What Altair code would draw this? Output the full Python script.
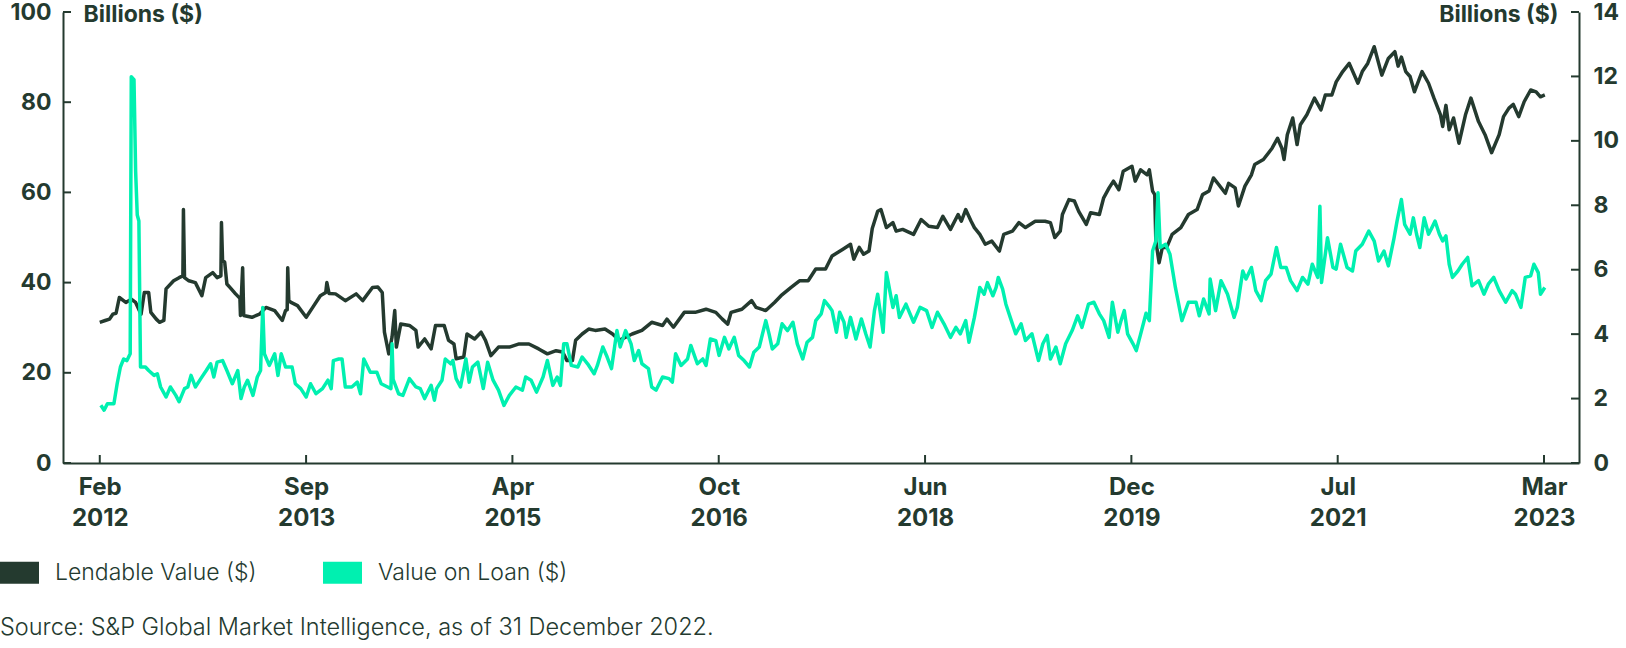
import altair as alt
import pandas as pd

DARK = "#243a2f"
TEAL = "#00f0b0"
FONT = "Inter"

series_names = ["Lendable Value ($)", "Value on Loan ($)"]

# (months elapsed since 1 Feb 2012, value in $bn)
lendable_points = [
    (0.0, 31.2), (0.5, 31.6), (0.9, 31.9), (1.2, 33.0), (1.5, 33.2), (1.8, 36.7), (2.4, 35.6), (2.9, 36.3),
    (3.3, 35.6), (3.8, 33.0), (4.1, 37.8), (4.5, 37.8), (4.7, 33.4), (5.2, 31.9), (5.5, 31.2), (5.9, 31.6),
    (6.1, 38.6), (6.8, 40.4), (7.3, 41.1), (7.65, 41.5), (7.7, 56.2), (7.8, 41.1), (8.2, 40.4), (8.8, 40.0),
    (9.4, 37.1), (9.75, 41.1), (10.4, 42.2), (10.8, 41.1), (11.15, 41.5), (11.2, 53.3), (11.3, 45.0),
    (11.5, 44.5), (11.7, 39.7), (12.0, 38.9), (12.5, 37.5), (12.9, 36.5), (12.95, 32.7), (13.15, 43.3),
    (13.25, 32.7), (14.0, 32.3), (14.7, 33.0), (15.3, 34.5), (16.1, 33.8), (16.8, 31.6), (17.1, 33.8),
    (17.25, 34.0), (17.3, 43.3), (17.4, 36.0), (17.6, 35.6), (18.2, 34.9), (19.0, 32.3), (19.6, 34.5),
    (20.3, 37.1), (20.8, 37.8), (20.9, 40.0), (21.1, 37.6), (21.7, 37.5), (22.6, 36.0), (23.6, 37.5),
    (24.2, 36.0), (25.1, 38.9), (25.6, 39.0), (26.0, 37.8), (26.2, 29.0), (26.6, 24.2), (26.9, 27.9),
    (27.15, 33.8), (27.3, 25.7), (27.7, 30.8), (28.5, 30.5), (29.1, 29.4), (29.3, 25.7), (29.9, 27.5),
    (30.5, 25.3), (30.9, 30.5), (31.7, 30.5), (32.1, 27.2), (32.6, 26.4), (32.8, 23.1), (33.5, 23.5),
    (33.8, 28.6), (34.5, 27.5), (35.1, 29.0), (35.5, 27.2), (36.0, 23.8), (36.7, 25.7), (37.7, 25.7),
    (38.6, 26.4), (39.5, 26.4), (40.4, 25.3), (41.2, 24.2), (42.0, 24.9), (42.6, 24.6), (43.0, 22.7),
    (43.5, 22.7), (43.8, 27.2), (44.4, 28.6), (45.0, 29.7), (45.6, 29.4), (46.5, 29.7), (47.2, 28.6),
    (47.8, 27.2), (49.0, 28.6), (49.9, 29.4), (50.8, 31.2), (51.8, 30.5), (52.2, 31.9), (52.8, 30.1),
    (53.8, 33.4), (54.8, 33.4), (55.8, 34.1), (56.7, 33.4), (57.3, 31.9), (57.8, 30.8), (58.1, 33.4),
    (59.1, 34.1), (60.0, 36.0), (60.4, 34.5), (61.3, 33.8), (62.1, 35.6), (62.7, 37.1), (63.6, 38.9),
    (64.4, 40.4), (65.2, 40.4), (65.9, 43.0), (66.8, 43.0), (67.4, 45.9), (68.4, 47.4), (69.1, 48.5),
    (69.4, 45.2), (69.9, 47.8), (70.3, 46.3), (70.8, 47.0), (71.1, 52.0), (71.6, 55.8), (71.9, 56.2),
    (72.4, 52.2), (73.0, 53.3), (73.3, 51.4), (73.9, 51.8), (74.9, 50.7), (75.6, 54.0), (76.3, 52.5),
    (77.1, 52.2), (77.6, 54.7), (78.3, 51.8), (79.0, 55.1), (79.3, 53.6), (79.7, 56.2), (80.2, 53.6),
    (80.5, 52.2), (81.0, 50.7), (81.5, 48.5), (82.1, 49.2), (82.8, 47.0), (83.2, 50.7), (84.0, 51.4),
    (84.6, 53.3), (85.2, 52.2), (86.1, 53.6), (87.0, 53.6), (87.5, 53.3), (87.9, 50.0), (88.4, 51.4),
    (88.6, 55.1), (89.2, 58.4), (89.7, 58.1), (90.1, 55.8), (90.8, 52.9), (91.2, 55.5), (92.0, 55.1),
    (92.4, 58.8), (92.9, 61.0), (93.3, 62.5), (93.8, 60.6), (94.2, 64.7), (95.0, 65.8), (95.3, 62.5),
    (95.8, 65.0), (96.4, 63.9), (96.6, 65.0), (96.9, 60.3), (97.1, 59.5), (97.2, 49.2), (97.5, 44.4),
    (97.8, 47.8), (98.2, 47.8), (98.7, 50.7), (99.5, 52.2), (100.2, 55.1), (101.0, 56.2), (101.5, 59.5),
    (102.1, 60.3), (102.5, 63.2), (103.0, 61.7), (103.6, 59.8), (103.9, 62.0), (104.5, 61.0), (104.8, 57.0),
    (105.4, 61.4), (106.0, 63.9), (106.3, 66.2), (107.1, 67.3), (107.9, 69.8), (108.4, 72.0), (108.8, 69.8),
    (109.0, 67.3), (109.3, 72.8), (109.8, 76.5), (110.2, 70.6), (110.5, 75.0), (111.1, 77.2), (111.8, 80.9),
    (112.4, 78.3), (112.8, 81.6), (113.4, 81.6), (113.8, 84.5), (114.4, 86.8), (115.0, 88.6), (115.8, 84.2),
    (116.2, 86.8), (116.7, 88.6), (117.3, 92.3), (118.0, 86.0), (118.6, 89.7), (119.2, 91.2), (119.5, 88.0),
    (119.8, 90.0), (120.2, 86.8), (120.6, 85.7), (121.0, 82.3), (121.7, 86.8), (122.3, 84.2), (122.8, 80.9),
    (123.4, 77.2), (123.6, 74.6), (123.9, 79.3), (124.2, 73.9), (124.6, 76.5), (125.1, 70.9), (125.7, 77.2),
    (126.2, 80.9), (126.9, 75.7), (127.5, 72.8), (128.1, 68.8), (128.8, 72.8), (129.2, 76.8), (129.7, 78.7),
    (130.1, 79.5), (130.6, 76.8), (131.1, 80.1), (131.7, 82.7), (132.2, 82.3), (132.6, 81.2), (133.0, 81.6),
]

loan_points = [
    (0.1, 1.79), (0.4, 1.64), (0.7, 1.84), (1.3, 1.84), (1.6, 2.46), (1.9, 2.98), (2.2, 3.23), (2.5, 3.18),
    (2.8, 3.39), (2.9, 11.99), (3.15, 11.9), (3.3, 9.06), (3.45, 7.7), (3.6, 7.51), (3.75, 2.98), (4.2, 2.98),
    (4.5, 2.87), (5.0, 2.72), (5.3, 2.77), (5.6, 2.36), (6.1, 2.05), (6.5, 2.36), (7.0, 2.10), (7.3, 1.90),
    (7.8, 2.31), (8.1, 2.36), (8.4, 2.72), (8.8, 2.36), (9.3, 2.62), (9.8, 2.87), (10.2, 3.08), (10.5, 2.67),
    (10.8, 3.13), (11.3, 3.18), (11.7, 2.87), (12.2, 2.46), (12.7, 2.87), (13.0, 2.00), (13.3, 2.36),
    (13.6, 2.57), (14.1, 2.10), (14.5, 2.67), (14.8, 2.87), (15.0, 4.83), (15.15, 3.39), (15.6, 3.03),
    (16.1, 3.39), (16.4, 2.72), (16.7, 3.39), (17.1, 2.98), (17.7, 2.98), (18.0, 2.46), (18.5, 2.31),
    (19.0, 2.05), (19.4, 2.46), (19.9, 2.15), (20.5, 2.31), (21.0, 2.57), (21.3, 2.31), (21.5, 3.18),
    (22.0, 3.23), (22.3, 3.23), (22.6, 2.36), (23.2, 2.36), (23.7, 2.51), (24.0, 2.15), (24.3, 3.23),
    (24.9, 2.82), (25.5, 2.82), (25.9, 2.46), (26.5, 2.36), (26.8, 2.31), (26.9, 3.70), (27.0, 2.60),
    (27.5, 2.15), (27.9, 2.10), (28.5, 2.62), (29.1, 2.36), (29.5, 2.31), (29.9, 2.00), (30.5, 2.41),
    (30.8, 1.95), (31.0, 2.31), (31.5, 2.57), (31.8, 3.23), (32.3, 3.08), (32.5, 3.18), (32.8, 2.62),
    (33.2, 2.36), (33.7, 3.23), (34.0, 2.51), (34.3, 2.98), (34.8, 3.13), (35.3, 2.31), (35.7, 3.13),
    (36.2, 2.57), (36.7, 2.26), (37.2, 1.79), (37.7, 2.10), (38.3, 2.36), (38.9, 2.26), (39.2, 2.67),
    (39.7, 2.57), (40.2, 2.20), (40.8, 2.67), (41.2, 3.18), (41.7, 2.41), (42.1, 2.67), (42.4, 2.41),
    (42.7, 3.70), (43.0, 3.70), (43.4, 3.03), (44.0, 2.98), (44.4, 3.29), (44.9, 3.08), (45.5, 2.77),
    (45.8, 3.03), (46.3, 3.60), (46.7, 3.29), (47.1, 2.93), (47.6, 4.11), (47.9, 3.60), (48.4, 4.11),
    (48.9, 3.70), (49.2, 3.18), (49.6, 3.49), (49.9, 3.08), (50.5, 2.93), (50.8, 2.36), (51.2, 2.26),
    (51.8, 2.67), (52.4, 2.62), (52.7, 2.51), (53.0, 3.39), (53.5, 3.03), (54.1, 3.23), (54.4, 3.65),
    (55.0, 3.08), (55.5, 3.23), (55.8, 3.03), (56.2, 3.85), (56.7, 3.80), (57.0, 3.34), (57.5, 3.90),
    (57.9, 3.54), (58.4, 3.90), (58.8, 3.34), (59.3, 3.18), (59.8, 2.98), (60.2, 3.44), (60.7, 3.60),
    (61.3, 4.42), (61.6, 4.01), (61.9, 3.54), (62.4, 3.70), (62.8, 4.32), (63.3, 4.11), (63.8, 4.37),
    (64.2, 3.70), (64.7, 3.23), (65.1, 3.75), (65.6, 3.90), (65.9, 4.42), (66.4, 4.63), (66.7, 5.04),
    (67.2, 4.83), (67.4, 4.73), (67.8, 4.06), (68.1, 4.68), (68.5, 4.37), (68.7, 3.90), (69.1, 4.52),
    (69.6, 3.85), (70.1, 4.47), (70.5, 4.01), (70.9, 3.60), (71.3, 4.73), (71.6, 5.24), (72.1, 4.06),
    (72.4, 5.91), (73.0, 4.83), (73.3, 5.19), (73.6, 4.52), (74.2, 4.93), (74.9, 4.37), (75.5, 4.83),
    (76.1, 4.73), (76.6, 4.21), (77.1, 4.68), (77.7, 4.32), (78.3, 3.90), (78.8, 4.21), (79.2, 4.01),
    (79.7, 4.42), (80.0, 3.75), (80.5, 4.52), (81.0, 5.45), (81.4, 5.24), (81.7, 5.60), (82.2, 5.19),
    (82.5, 5.45), (82.7, 5.76), (83.1, 5.40), (83.4, 4.93), (83.9, 4.42), (84.3, 4.01), (84.8, 4.32),
    (85.2, 3.80), (85.8, 4.01), (86.4, 3.18), (86.8, 3.70), (87.2, 3.96), (87.5, 3.23), (88.0, 3.60),
    (88.4, 3.08), (88.9, 3.70), (89.5, 4.11), (90.0, 4.57), (90.4, 4.21), (91.0, 4.93), (91.5, 4.99),
    (92.0, 4.63), (92.4, 4.42), (92.9, 3.90), (93.2, 4.99), (93.7, 4.06), (94.0, 4.42), (94.3, 4.73),
    (94.6, 4.01), (95.1, 3.70), (95.4, 3.49), (95.8, 4.00), (96.3, 4.65), (96.6, 4.42), (96.9, 6.58),
    (97.2, 6.89), (97.4, 8.39), (97.6, 6.69), (98.1, 6.79), (98.5, 6.48), (99.0, 5.45), (99.6, 4.42),
    (100.2, 4.99), (100.9, 4.99), (101.2, 4.57), (101.6, 5.09), (102.1, 4.63), (102.2, 5.71), (102.7, 4.73),
    (103.2, 5.66), (103.8, 5.24), (104.4, 4.52), (104.7, 4.83), (105.2, 5.96), (105.5, 5.71), (106.0, 6.07),
    (106.4, 5.35), (106.9, 5.04), (107.3, 5.66), (107.8, 5.86), (108.3, 6.69), (108.7, 6.07), (109.2, 6.07),
    (109.6, 5.66), (110.2, 5.35), (110.7, 5.76), (111.2, 5.55), (111.6, 6.17), (112.1, 5.76), (112.3, 7.97),
    (112.45, 5.60), (113.0, 6.99), (113.5, 6.07), (113.8, 6.02), (114.2, 6.79), (114.8, 6.07), (115.3, 5.96),
    (115.6, 6.58), (116.2, 6.79), (116.8, 7.20), (117.3, 6.89), (117.7, 6.27), (118.2, 6.58), (118.6, 6.12),
    (119.1, 6.94), (119.4, 7.51), (119.8, 8.18), (120.1, 7.41), (120.6, 7.10), (120.9, 7.61), (121.2, 7.10),
    (121.5, 6.69), (121.9, 7.61), (122.3, 7.10), (122.6, 7.30), (122.9, 7.51), (123.3, 7.10), (123.6, 6.89),
    (123.9, 7.05), (124.2, 6.17), (124.5, 5.76), (125.0, 5.96), (125.4, 6.17), (125.9, 6.38), (126.3, 5.50),
    (126.9, 5.66), (127.4, 5.24), (127.8, 5.55), (128.3, 5.76), (128.8, 5.35), (129.4, 4.99), (130.0, 5.35),
    (130.3, 5.24), (130.8, 4.83), (131.2, 5.76), (131.7, 5.81), (132.0, 6.17), (132.4, 5.91), (132.6, 5.24),
    (133.0, 5.45),
]

tick_dates = ["2012-02-01", "2013-09-01", "2015-04-02", "2016-10-31",
              "2018-06-01", "2019-12-31", "2021-07-31", "2023-03-01"]
x_domain = ["2011-10-21", "2023-06-07"]
left_ticks = [0, 20, 40, 60, 80, 100]
right_ticks = [0, 2, 4, 6, 8, 10, 12, 14]
axis_title = "Billions ($)"
source_text = "Source: S&P Global Market Intelligence, as of 31 December 2022."

START = pd.Timestamp("2012-02-01", tz="UTC")


def to_ms(ts):
    return int(ts.value // 10**6)


def month_ms(m):
    return to_ms(START + pd.Timedelta(days=m * 30.4375))


def date_ms(s):
    return to_ms(pd.Timestamp(s, tz="UTC"))


lend_df = pd.DataFrame({
    "date": [month_ms(t) for t, _ in lendable_points],
    "value": [v for _, v in lendable_points],
    "series": series_names[0],
})
loan_df = pd.DataFrame({
    "date": [month_ms(t) for t, _ in loan_points],
    "value": [v for _, v in loan_points],
    "series": series_names[1],
})
left_tick_df = pd.DataFrame({"value": left_ticks})
right_tick_df = pd.DataFrame({"value": right_ticks})
bottom_tick_df = pd.DataFrame({"date": [date_ms(d) for d in tick_dates]})
source_df = pd.DataFrame({"t": [source_text]})

W, H = 1516, 451

x_enc = alt.X(
    "date:T",
    scale=alt.Scale(type="utc", domain=[date_ms(x_domain[0]), date_ms(x_domain[1])], nice=False),
    axis=alt.Axis(
        values=[date_ms(d) for d in tick_dates],
        labelExpr="[utcFormat(datum.value, '%b'), utcFormat(datum.value, '%Y')]",
        title=None, ticks=False, grid=False,
        domainColor=DARK, domainWidth=2,
        labelFont=FONT, labelFontSize=24, labelFontWeight="bold", labelColor=DARK,
        labelPadding=12, labelLineHeight=31, labelAlign="center", labelBaseline="top",
        labelOverlap=False, labelFlush=False,
    ),
)

common_y_axis = dict(
    ticks=False, grid=False, domainColor=DARK, domainWidth=2,
    labelFont=FONT, labelFontSize=23, labelFontWeight="bold", labelColor=DARK,
    title=axis_title, titleAngle=0, titleBaseline="middle",
    titleFont=FONT, titleFontSize=23, titleFontWeight="bold", titleColor=DARK,
    titleY=2, labelOverlap=False, labelFlush=False,
)

y_left = alt.Y(
    "value:Q",
    scale=alt.Scale(domain=[0, 100], nice=False, zero=True),
    axis=alt.Axis(orient="left", values=left_ticks, labelPadding=12,
                  titleAlign="left", titleX=20, **common_y_axis),
)
y_right = alt.Y(
    "value:Q",
    scale=alt.Scale(domain=[0, 14], nice=False, zero=True),
    axis=alt.Axis(orient="right", values=right_ticks, labelPadding=14,
                  titleAlign="right", titleX=-21, **common_y_axis),
)

legend = alt.Legend(
    orient="none", legendX=-74, legendY=530, direction="horizontal", title=None,
    symbolType="M-1,0L1,0", symbolSize=1521, symbolStrokeWidth=22,
    labelFont=FONT, labelFontSize=23, labelFontWeight=300, labelColor=DARK,
    labelOffset=5, columnPadding=22, padding=0, labelLimit=500,
)
color_enc = alt.Color(
    "series:N",
    scale=alt.Scale(domain=series_names, range=[DARK, TEAL]),
    legend=legend,
)

lend_line = alt.Chart(lend_df).mark_line(strokeJoin="round").encode(
    x=x_enc, y=y_left, color=color_enc, strokeWidth=alt.value(3.5)
)
left_rules = alt.Chart(left_tick_df).mark_rule(color=DARK, strokeWidth=2).encode(
    y=y_left, x=alt.value(0), x2=alt.value(8)
)
bottom_rules = alt.Chart(bottom_tick_df).mark_rule(color=DARK, strokeWidth=2).encode(
    x=x_enc, y=alt.value(H), y2=alt.value(H - 8)
)

loan_line = alt.Chart(loan_df).mark_line(strokeJoin="round").encode(
    x=x_enc, y=y_right, color=color_enc, strokeWidth=alt.value(3.5)
)
right_rules = alt.Chart(right_tick_df).mark_rule(color=DARK, strokeWidth=2).encode(
    y=y_right, x=alt.value(W - 8), x2=alt.value(W)
)

source = alt.Chart(source_df).mark_text(
    align="left", baseline="middle", font=FONT, fontSize=23.5, fontWeight=300, color=DARK
).encode(text="t:N", x=alt.value(-63), y=alt.value(616))

left_group = alt.layer(lend_line, left_rules, bottom_rules)
right_group = alt.layer(loan_line, right_rules)

chart = (
    alt.layer(left_group, right_group, source)
    .resolve_scale(y="independent")
    .properties(
        width=W, height=H,
        padding={"left": 63, "top": 12, "right": 47, "bottom": 185},
        autosize=alt.AutoSizeParams(type="none"),
        background="white",
    )
    .configure_view(stroke=None)
)

chart.save("out.html", embed_options={"renderer": "svg", "actions": False})
